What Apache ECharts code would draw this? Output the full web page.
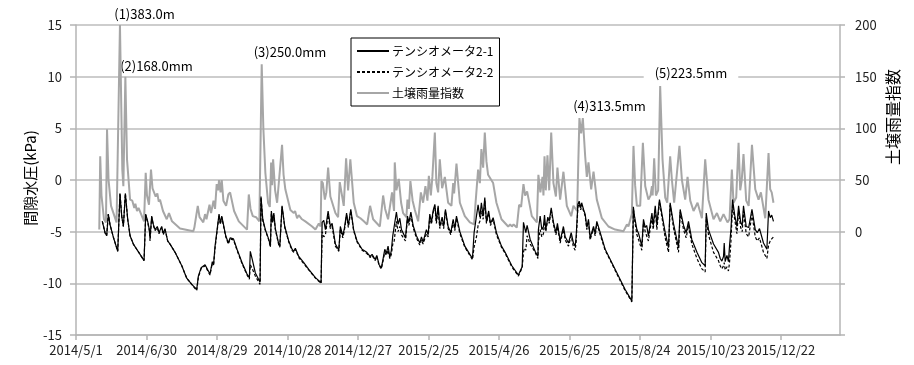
<!DOCTYPE html>
<html><head><meta charset="utf-8">
<script src="https://cdn.jsdelivr.net/npm/echarts@6/dist/echarts.min.js"></script>
<style>html,body{margin:0;padding:0;background:#fff}#c{width:914px;height:365px}</style>
</head><body><div id="c"></div>
<script>
// x values are days since START_DATE
const START_DATE = [2014, 5, 1];
const xTickDays = [0, 60, 120, 180, 240, 300, 360, 420, 480, 540, 600];
const leftTicks = [-15, -10, -5, 0, 5, 10, 15];
const rightTicks = [0, 50, 100, 150, 200];
const seriesNames = ['テンシオメータ2-1', 'テンシオメータ2-2', '土壌雨量指数'];
const leftAxisName = '間隙水圧(kPa)';
const rightAxisName = '土壌雨量指数';
const annotations = ['(1)383.0m', '(2)168.0mm', '(3)250.0mm', '(4)313.5mm', '(5)223.5mm'];

// 土壌雨量指数 (right axis)
const sri = [[19.8,2],[20.6,73],[21.7,35],[23.8,12],[25.5,9],[26.4,99],[27.7,50],[29.8,25],[34.5,9],[37.4,200],[39.4,60],[40.3,44],[42,150],[43.4,70],[46,31],[47.9,30],[49.6,23],[50.5,27],[51.9,20],[53.2,23],[57.9,10],[59.3,57],[60.4,35],[62.1,26],[63.8,60],[65.1,42],[67.8,34],[69.2,37],[70.4,29],[71.5,31],[74,20],[77.2,12],[79.1,18],[81.7,10],[88.5,3],[99.8,0.5],[100.7,4],[103.6,25],[105.1,14],[108.3,9],[109.8,17],[111,12],[113.6,26],[114.9,18],[117,30],[118.3,22],[119.7,46],[120.9,40],[121.7,50],[123,38],[124,50],[125.4,30],[127.7,25],[129.6,36],[131.1,38],[132.8,37],[134.5,20],[138.5,10],[145.5,2],[147,36],[148.5,22],[150.4,15],[153.2,14],[156,10],[158,162],[159.4,100],[161.1,57],[163.4,28],[164.9,24],[166,67],[166.8,45],[167.7,70],[169.4,40],[171.1,28],[175.3,84],[176.6,55],[178.1,41],[182.4,21],[185.3,18],[186.4,20],[188.1,13],[189.5,16],[192.3,12],[195.1,10],[200.9,5],[203.7,2],[206.6,8],[208.1,5],[208.8,49],[210,47],[211.7,31],[213,38],[214.5,62],[216.4,34],[220.7,18],[223,14],[224.4,48],[227.8,25],[229.8,71],[231.5,40],[233.4,70],[236.3,28],[239.1,15],[242,13],[244.9,10],[247.7,7],[250.2,25],[252.8,12],[258.5,5],[261.3,35],[263,22],[265.5,12],[267.2,11],[268.9,38],[270.6,20],[271.2,67],[272.6,40],[274.6,51],[276.6,28],[278.3,18],[281.1,14],[282,31],[283.2,22],[284.5,49],[286.4,30],[288.3,21],[291.1,10],[293.4,38],[295.3,28],[297.3,44],[299,30],[300.2,54],[301.9,35],[303.2,53],[305.3,96],[306.6,47],[308.1,38],[309.5,70],[311.5,42],[313.8,53],[316.6,28],[319.4,25],[320.9,47],[321.7,37],[323.7,66],[326.6,28],[330.8,15],[335.1,9],[338.7,7],[339.8,26],[342.1,60],[343.6,47],[344.9,80],[346.4,62],[347.8,96],[349.2,68],[350.6,55],[354.9,47],[357.7,28],[362,12],[367.7,5],[369.4,7],[370.8,5],[372.3,7],[375,4],[377,26],[378.7,24],[380.7,46],[382.1,35],[383.8,39],[387.8,15],[392.1,9],[393.4,55],[395.1,38],[396.9,53],[397.7,35],[398.6,73],[399.7,40],[401.1,74],[402.6,40],[404.3,96],[406.2,47],[408.3,34],[409.6,62],[411.9,31],[414.7,58],[417.6,25],[421.3,15],[423.2,25],[426.4,20],[427.2,60],[428.3,110],[429.8,95],[431.2,110],[433.2,73],[434.6,53],[436,67],[438.3,41],[440.3,58],[443.1,31],[447.4,13],[453,5],[458.7,2],[465.8,0.5],[467.2,2],[468.7,7],[470,5],[472.9,17],[474.3,83],[475.7,45],[477.2,25],[480,25],[482.3,86],[484.3,44],[487,31],[488.8,35],[490,44],[490.6,35],[491.9,71],[493.4,35],[495.3,40],[497,141],[499,70],[501.3,33],[503,28],[505.5,73],[507,50],[508.9,28],[513.4,83],[515.5,50],[518.3,31],[520.3,53],[522.6,30],[525.4,20],[528.8,28],[532.5,13],[535.3,70],[538.1,31],[542.4,12],[545.3,18],[548.1,10],[550.9,17],[554.3,9],[556,12],[558,60],[559.4,28],[561.7,33],[563.7,86],[565.1,40],[566.4,50],[567.9,75],[570.2,30],[572.3,25],[575.1,84],[577.9,41],[580.7,31],[582.7,38],[586.4,13],[589.2,76],[590.6,41],[591.9,38],[593.4,28]];

// テンシオメータ2-1 (left axis, kPa)
const t21 = [[22.4,-4.0],[24.7,-5.1],[26.1,-5.4],[27.5,-3.3],[28.9,-4.3],[31.7,-5.5],[35.5,-6.9],[37.4,-1.3],[38.9,-3.5],[40.3,-4.5],[42,-1.3],[44,-3.8],[46,-5.4],[48.8,-6.2],[54.5,-7.2],[57.9,-7.8],[59.3,-3.3],[61,-4.0],[62.4,-4.8],[63,-5.6],[64.4,-3.5],[65.8,-4.3],[67.2,-4.8],[69.2,-4.5],[70.6,-5.1],[72.9,-4.5],[74.3,-5.2],[75.7,-4.7],[78,-5.9],[80,-6.2],[84.3,-7.0],[90,-8.3],[94.2,-9.5],[98.5,-10.1],[102.7,-10.6],[104.1,-9.3],[106.4,-8.5],[109.8,-8.2],[112.6,-8.8],[114,-9.1],[116,-7.9],[117,-8.2],[118.3,-6.4],[121.7,-3.3],[122.8,-4.2],[124,-3.5],[127.4,-5.4],[129.6,-6.1],[131.1,-5.6],[132.8,-5.75],[134,-5.7],[137,-6.7],[141.3,-8.0],[145.5,-9.1],[147.5,-9.45],[148.3,-6.9],[150,-7.7],[152.6,-9.0],[156.6,-9.9],[157.4,-1.6],[158.9,-3.8],[161.1,-4.8],[164,-5.75],[165.4,-6.4],[166.2,-3.0],[167.2,-4.0],[168.3,-3.2],[169.6,-4.7],[172.5,-6.2],[173.4,-6.4],[175.3,-2.5],[177.6,-4.5],[181,-5.9],[183.8,-6.7],[185.3,-6.9],[186.6,-6.6],[189.5,-7.4],[193.8,-8.0],[198,-8.65],[203.7,-9.45],[208.5,-9.95],[209.4,-4.1],[210.8,-3.9],[212.2,-4.8],[214.5,-3.0],[216.4,-4.5],[217.9,-4.2],[220.7,-6.2],[223.6,-6.8],[224.9,-4.5],[227,-5.4],[228.3,-4.7],[230.2,-3.2],[231.7,-4.4],[233.8,-2.85],[236.2,-4.8],[239.1,-5.9],[243.4,-6.7],[247.4,-7.0],[250.2,-7.4],[251.9,-7.2],[254.5,-7.7],[255.9,-7.3],[257.9,-8.2],[259.8,-8.5],[261.3,-7.6],[262.7,-6.7],[264.1,-7.1],[265.5,-6.4],[267,-7.5],[268.3,-6.8],[269.5,-5.4],[270.6,-5.3],[272.6,-3.1],[274,-4.3],[275.5,-3.7],[276.9,-4.8],[280.3,-5.6],[282,-3.5],[283.2,-4.1],[284.9,-3.1],[286.8,-4.4],[289.6,-5.4],[292.5,-6.1],[293.9,-5.5],[295.3,-6.0],[298.1,-4.8],[299.6,-5.3],[301,-3.3],[302.4,-4.1],[303.8,-3.0],[305.3,-2.35],[306.6,-4.0],[308.1,-2.5],[309.5,-4.5],[311.5,-3.6],[312.8,-4.5],[314.3,-2.85],[316.6,-4.5],[318.9,-5.1],[320.9,-3.8],[322.3,-4.7],[323.7,-3.5],[326.6,-5.0],[330.8,-6.4],[335.1,-7.2],[337.3,-7.6],[338.7,-5.1],[340.7,-3.5],[342.1,-2.4],[343.6,-3.6],[344.9,-2.2],[346.4,-3.5],[347.8,-1.7],[349.2,-4.0],[351.1,-3.0],[352.6,-4.2],[354.9,-3.65],[357.7,-5.1],[362,-6.4],[365.1,-7.0],[370.8,-8.3],[376.4,-9.2],[377.9,-8.8],[379.6,-8.4],[380.7,-4.1],[381.5,-4.1],[382.7,-5.1],[383.8,-4.4],[386.4,-5.75],[390.6,-6.9],[393,-7.4],[393.4,-4.8],[394.9,-3.5],[396.3,-4.8],[397.7,-4.5],[398.6,-3.4],[399.7,-4.8],[401.4,-3.6],[402.6,-4.0],[404.3,-2.7],[406.2,-4.1],[408.3,-5.1],[409.6,-4.2],[411.9,-5.9],[414.7,-4.5],[416.2,-5.5],[419,-6.1],[421.3,-5.1],[423.2,-6.1],[424.7,-6.4],[425.5,-5.5],[427,-2.35],[428.1,-2.05],[429.4,-2.7],[430.2,-2.2],[431.8,-2.85],[433.2,-3.3],[434.6,-4.6],[436,-3.8],[437.4,-5.6],[440.3,-4.5],[441.7,-5.2],[443.1,-4.0],[446,-5.1],[450.2,-6.7],[455.9,-8.0],[461.5,-9.3],[467.2,-10.6],[472.9,-11.7],[474.2,-2.6],[475.3,-3.6],[477.2,-4.8],[478.7,-5.2],[481.4,-6.4],[482.8,-3.8],[484.3,-4.6],[485.5,-4.4],[487,-5.4],[490,-3.2],[491.1,-4.4],[492.8,-2.5],[494.2,-4.3],[496.4,-1.9],[498.5,-3.3],[501.3,-5.1],[504.1,-6.55],[505.5,-2.2],[508.3,-4.2],[512.6,-6.55],[514,-2.85],[516.9,-4.4],[519.1,-5.1],[521.1,-4.0],[523.9,-5.75],[528.3,-7.0],[532.5,-8.0],[535.3,-8.3],[536.2,-3.2],[538.1,-4.8],[542.4,-6.2],[546.6,-7.0],[548.1,-7.6],[549.5,-7.85],[550.9,-7.4],[551.5,-6.1],[552.3,-7.9],[553.8,-7.3],[555.1,-7.9],[556,-6.4],[557.2,-4.8],[558.6,-1.9],[560.4,-3.4],[562.3,-4.5],[563.7,-2.5],[565.5,-4.1],[566.8,-4.4],[567.9,-2.5],[570.2,-4.5],[572.3,-4.6],[575.1,-2.85],[577.9,-4.8],[579.6,-5.1],[581.5,-4.7],[584.9,-6.1],[587.8,-6.7],[589.2,-3.0],[590.6,-3.65],[591.9,-3.4],[593.4,-4.0]];

// テンシオメータ2-2 (left axis, kPa)
const t22 = [[22.4,-4.0],[24.7,-5.1],[26.1,-5.4],[27.5,-3.3],[28.9,-4.3],[31.7,-5.5],[35.5,-6.9],[37.4,-1.3],[38.9,-3.5],[40.3,-4.5],[42,-1.3],[44,-3.8],[46,-5.4],[48.8,-6.2],[54.5,-7.2],[57.9,-7.8],[59.3,-3.4],[61,-4.1],[62.4,-4.9],[63,-5.9],[64.4,-3.6],[65.8,-4.4],[67.2,-4.9],[69.2,-4.6],[70.6,-5.2],[72.9,-4.6],[74.3,-5.3],[75.7,-4.8],[78,-5.9],[80,-6.2],[84.3,-7.0],[90,-8.3],[94.2,-9.5],[98.5,-10.1],[102.7,-10.7],[104.1,-9.4],[106.4,-8.6],[109.8,-8.3],[112.6,-8.9],[114,-9.2],[116,-8.0],[117,-8.3],[118.3,-6.6],[121.7,-3.4],[122.8,-4.3],[124,-3.6],[127.4,-5.5],[129.6,-6.2],[131.1,-5.7],[132.8,-5.8],[134,-5.8],[137,-6.8],[141.3,-8.1],[145.5,-9.2],[147.5,-9.6],[148.3,-8.2],[150,-8.6],[152.6,-9.3],[156.6,-10.1],[157.4,-1.7],[158.9,-3.9],[161.1,-4.9],[164,-5.8],[165.4,-6.5],[166.2,-3.2],[167.2,-4.2],[168.3,-3.4],[169.6,-4.8],[172.5,-6.3],[173.4,-6.5],[175.3,-2.6],[177.6,-4.6],[181,-6.0],[183.8,-6.8],[185.3,-7.0],[186.6,-6.7],[189.5,-7.5],[193.8,-8.1],[198,-8.7],[203.7,-9.5],[208.5,-10.0],[209.4,-5.0],[210.8,-5.5],[212.2,-5.3],[214.5,-3.4],[216.4,-4.7],[217.9,-4.5],[220.7,-6.4],[223.6,-6.9],[224.9,-4.8],[227,-5.6],[228.3,-4.9],[230.2,-3.4],[231.7,-4.6],[233.8,-3.0],[236.2,-4.9],[239.1,-6.0],[243.4,-6.8],[247.4,-7.1],[250.2,-7.5],[251.9,-7.3],[254.5,-7.8],[255.9,-7.4],[257.9,-8.3],[259.8,-8.6],[261.3,-7.8],[262.7,-7.0],[264.1,-7.3],[265.5,-6.8],[267,-7.6],[268.3,-7.2],[269.5,-6.2],[270.6,-6.0],[272.6,-4.0],[274,-5.0],[275.5,-4.5],[276.9,-5.3],[280.3,-5.9],[282,-3.8],[283.2,-4.4],[284.9,-3.4],[286.8,-4.6],[289.6,-5.6],[292.5,-6.3],[293.9,-5.8],[295.3,-6.2],[298.1,-5.2],[299.6,-5.5],[301,-3.6],[302.4,-4.3],[303.8,-3.2],[305.3,-2.5],[306.6,-4.2],[308.1,-2.7],[309.5,-4.7],[311.5,-3.8],[312.8,-4.7],[314.3,-3.0],[316.6,-4.7],[318.9,-5.3],[320.9,-4.0],[322.3,-4.9],[323.7,-3.7],[326.6,-5.2],[330.8,-6.5],[335.1,-7.3],[337.3,-7.7],[338.7,-6.5],[340.7,-5.5],[342.1,-4.4],[343.6,-4.0],[344.9,-3.0],[346.4,-3.8],[347.8,-2.0],[349.2,-4.2],[351.1,-3.2],[352.6,-4.4],[354.9,-3.8],[357.7,-5.3],[362,-6.5],[365.1,-7.1],[370.8,-8.4],[376.4,-9.3],[377.9,-8.9],[379.6,-8.5],[380.7,-7.0],[381.5,-6.6],[382.7,-6.8],[383.8,-5.4],[386.4,-6.2],[390.6,-7.0],[393,-7.6],[393.4,-6.0],[394.9,-4.8],[396.3,-5.5],[397.7,-5.2],[398.6,-4.0],[399.7,-5.0],[401.4,-3.8],[402.6,-4.2],[404.3,-2.9],[406.2,-4.3],[408.3,-5.3],[409.6,-4.5],[411.9,-6.1],[414.7,-4.8],[416.2,-5.8],[419,-6.4],[421.3,-5.4],[423.2,-6.5],[424.7,-6.8],[425.5,-6.0],[427,-2.6],[428.1,-2.3],[429.4,-2.9],[430.2,-2.4],[431.8,-3.0],[433.2,-3.5],[434.6,-4.8],[436,-4.0],[437.4,-5.8],[440.3,-4.7],[441.7,-5.4],[443.1,-4.2],[446,-5.3],[450.2,-6.8],[455.9,-8.1],[461.5,-9.4],[467.2,-10.7],[472.9,-11.8],[474.2,-2.8],[475.3,-3.9],[477.2,-5.3],[478.7,-5.8],[481.4,-6.8],[482.8,-4.2],[484.3,-5.0],[485.5,-4.9],[487,-5.9],[490,-3.6],[491.1,-4.8],[492.8,-2.8],[494.2,-4.8],[496.4,-2.1],[498.5,-3.6],[501.3,-5.6],[504.1,-7.0],[505.5,-2.4],[508.3,-4.6],[512.6,-7.0],[514,-3.1],[516.9,-4.8],[519.1,-5.6],[521.1,-4.4],[523.9,-6.2],[528.3,-7.6],[532.5,-8.6],[535.3,-8.9],[536.2,-3.6],[538.1,-5.3],[542.4,-7.0],[546.6,-7.8],[548.1,-8.3],[549.5,-8.6],[550.9,-8.3],[551.5,-8.0],[552.3,-8.7],[553.8,-8.4],[555.1,-8.8],[556,-8.0],[557.2,-6.0],[558.6,-2.4],[560.4,-3.8],[562.3,-5.2],[563.7,-3.0],[565.5,-4.6],[566.8,-5.0],[567.9,-3.0],[570.2,-5.2],[572.3,-5.5],[575.1,-3.3],[577.9,-5.5],[579.6,-5.9],[581.5,-5.6],[584.9,-7.0],[587.8,-7.6],[589.2,-6.3],[590.6,-5.9],[591.9,-5.7],[593.4,-5.5]];

const FONT = '"Noto Sans CJK JP", "Noto Sans", sans-serif';
const GRAY = '#a6a6a6';
const AXIS_GRAY = '#b4b4b4';

function dayLabel(v) {
  const t = Date.UTC(START_DATE[0], START_DATE[1] - 1, START_DATE[2]) + v * 86400000;
  const d = new Date(t);
  return d.getUTCFullYear() + '/' + (d.getUTCMonth() + 1) + '/' + d.getUTCDate();
}

const chart = echarts.init(document.getElementById('c'), null, {renderer: 'canvas'});
chart.setOption({
  animation: false,
  backgroundColor: '#fff',
  textStyle: {fontFamily: FONT},
  grid: {left: 76, right: 74, top: 25, bottom: 30, containLabel: false},
  legend: {
    data: seriesNames,
    orient: 'vertical',
    left: 351, top: 38,
    padding: [7, 6, 7, 5],
    itemGap: 9,
    itemWidth: 32, itemHeight: 14,
    borderColor: '#000', borderWidth: 1,
    backgroundColor: '#fff',
    itemStyle: {color: 'transparent', borderColor: 'transparent', borderWidth: 0},
    textStyle: {fontSize: 12, color: '#000', fontFamily: FONT, padding: [0, 0, 0, -2]}
  },
  xAxis: {
    type: 'value', min: 0, max: 650, interval: 60,
    axisLine: {show: true, onZero: false, lineStyle: {color: AXIS_GRAY, width: 1.5}},
    axisTick: {show: true, length: 5, lineStyle: {color: AXIS_GRAY, width: 1.5}, customValues: xTickDays},
    axisLabel: {margin: 9, fontSize: 13, color: '#222', fontFamily: FONT, formatter: dayLabel, customValues: xTickDays},
    splitLine: {show: false}
  },
  yAxis: [{
    type: 'value', min: leftTicks[0], max: leftTicks[leftTicks.length - 1], interval: 5,
    axisLine: {show: true, onZero: false, lineStyle: {color: AXIS_GRAY, width: 1.5}},
    axisTick: {show: true, length: 6, lineStyle: {color: AXIS_GRAY, width: 1.5}},
    axisLabel: {margin: 14, fontSize: 13, color: '#222', fontFamily: FONT},
    splitLine: {show: true, lineStyle: {color: '#bdbdbd', width: 1.5}}
  }, {
    type: 'value', min: -100, max: rightTicks[rightTicks.length - 1], interval: 50,
    position: 'right',
    axisLine: {show: true, onZero: false, lineStyle: {color: AXIS_GRAY, width: 1.5}},
    axisTick: {show: true, length: 5, lineStyle: {color: AXIS_GRAY, width: 1.5}},
    axisLabel: {margin: 15, fontSize: 13, color: '#222', fontFamily: FONT,
      formatter: v => (rightTicks.indexOf(v) >= 0 ? String(v) : '')},
    splitLine: {show: false}
  }],
  series: [{
    name: seriesNames[2], type: 'line', yAxisIndex: 1, data: sri, symbol: 'none', z: 1,
    lineStyle: {color: GRAY, width: 2}, itemStyle: {color: GRAY}
  }, {
    name: seriesNames[1], type: 'line', yAxisIndex: 0, data: t22, symbol: 'none', z: 2,
    lineStyle: {color: '#000', width: 1.2, type: [3, 2]}, itemStyle: {color: '#000'}
  }, {
    name: seriesNames[0], type: 'line', yAxisIndex: 0, data: t21, symbol: 'none', z: 3,
    lineStyle: {color: '#000', width: 1.2}, itemStyle: {color: '#000'}
  }],
  graphic: [
    {type: 'text', x: 30, y: 178, rotation: Math.PI / 2, style: {text: leftAxisName, font: '15px ' + FONT, fill: '#000', align: 'center', verticalAlign: 'middle'}},
    {type: 'text', x: 893, y: 117, rotation: Math.PI / 2, style: {text: rightAxisName, font: '16px ' + FONT, fill: '#000', align: 'center', verticalAlign: 'middle'}},
    {type: 'text', x: 144.5, y: 14, style: {text: annotations[0], font: '13px ' + FONT, fill: '#000', align: 'center', verticalAlign: 'middle'}},
    {type: 'text', x: 156.5, y: 66, style: {text: annotations[1], font: '13px ' + FONT, fill: '#000', align: 'center', verticalAlign: 'middle'}},
    {type: 'text', x: 290, y: 52, style: {text: annotations[2], font: '13px ' + FONT, fill: '#000', align: 'center', verticalAlign: 'middle'}},
    {type: 'text', x: 609.5, y: 106, style: {text: annotations[3], font: '13px ' + FONT, fill: '#000', align: 'center', verticalAlign: 'middle'}},
    {type: 'text', x: 691, y: 73, z: 10, style: {text: annotations[4], font: '13px ' + FONT, fill: '#000', align: 'center', verticalAlign: 'middle', backgroundColor: '#fff', padding: [3, 11]}}
  ]
});
</script>
</body></html>
